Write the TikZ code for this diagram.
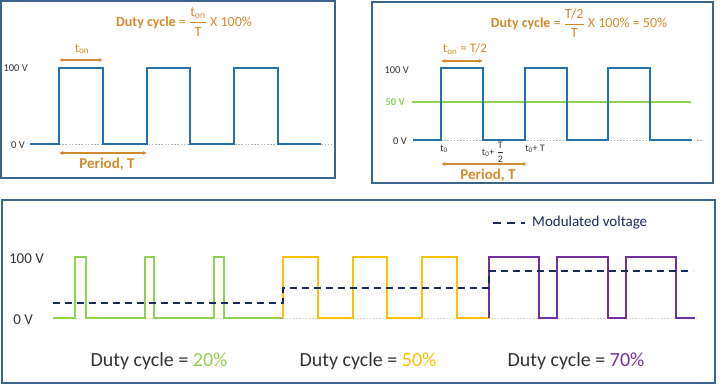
\documentclass[tikz,border=0pt]{standalone}
\usepackage{amsmath}
\usepackage{fontspec}
\setmainfont{Carlito}
\usepackage{xcolor}
\definecolor{frame}{HTML}{3B6488}
\definecolor{wave}{HTML}{2471AE}
\definecolor{accent}{HTML}{D38A2D}
\definecolor{ink}{HTML}{333333}
\definecolor{grn}{HTML}{92D050}
\definecolor{ylw}{HTML}{FFC000}
\definecolor{prp}{HTML}{7030A0}
\definecolor{navy}{HTML}{1B2A5C}
\usetikzlibrary{positioning,arrows.meta}

\begin{document}
\begin{tikzpicture}[x=1pt,y=-1pt,
  font=\fontsize{10.5}{12}\selectfont,
  panel/.style={draw=frame,line width=1.4pt},
  pulse/.style={draw=wave,line width=2pt},
  train/.style={line width=2.4pt},
  zero/.style={draw=gray!60,line width=0.8pt,dash pattern=on 1.6pt off 1.6pt},
  span/.style={{Latex[length=4pt,width=4pt]}-{Latex[length=4pt,width=4pt]},draw=accent,line width=1.4pt},
  level/.style={anchor=east,text=ink,inner sep=0pt},
  note/.style={text=accent,font=\bfseries\fontsize{15}{17}\selectfont},
  tick/.style={text=ink,font=\fontsize{10}{11}\selectfont},
  modline/.style={draw=navy,line width=2pt,dash pattern=on 7pt off 5pt},
  caption/.style={text=ink,font=\fontsize{20}{24}\selectfont}
]
\useasboundingbox (0,0) rectangle (720,385);

\draw[panel] (1,1) rectangle (335,178);
\draw[panel] (372,2) rectangle (713,183);
\draw[panel] (2,200) rectangle (715,383);

% one period, one formula
\node[text=accent,font=\fontsize{14}{16}\selectfont] (title1) at (184,22)
  {\textbf{Duty cycle} = $\dfrac{\text{t\textsubscript{on}}}{\text{T}}$ X 100\%};
\node[level] (hi1) at (28,68) {100 V};
\node[level] (lo1) at (25,145) {0 V};
\draw[zero] (59,144) -- (332,144);
\draw[pulse] (30,144) -- (59,144) -- (59,68) -- (103,68) -- (103,144) -- (147,144) -- (147,68)
  -- (190,68) -- (190,144) -- (234,144) -- (234,68) -- (278,68) -- (278,144) -- (321,144);
\coordinate (on1a) at (59,60);
\coordinate (on1b) at (103,60);
\coordinate (per1a) at (59,153);
\coordinate (per1b) at (147,153);
\draw[span] (on1a) -- (on1b);
\draw[span] (per1a) -- (per1b);
\node[text=accent,font=\fontsize{13}{15}\selectfont] (ton1) at (82,49) {t\textsubscript{on}};
\node[note] (period1) at (107,164) {Period, T};

% half period, 50 V average
\node[text=accent,font=\fontsize{14}{16}\selectfont] (title2) at (579,23)
  {\textbf{Duty cycle} = $\dfrac{\text{T/2}}{\text{T}}$ X 100\% = 50\%};
\node[level] (hi2) at (409,70) {100 V};
\node[level,text=grn,font=\bfseries\fontsize{10.5}{12}\selectfont] (mid2) at (405,102) {50 V};
\node[level] (lo2) at (407,141) {0 V};
\draw[zero] (441,140) -- (703,140);
\draw[draw=grn,line width=1.6pt] (412,102) -- (691,102);
\draw[pulse] (413,140) -- (441,140) -- (441,68) -- (483,68) -- (483,140) -- (525,140) -- (525,68)
  -- (567,68) -- (567,140) -- (608,140) -- (608,68) -- (650,68) -- (650,140) -- (692,140);
\coordinate (on2a) at (441,61);
\coordinate (on2b) at (483,61);
\coordinate (per2a) at (441,164);
\coordinate (per2b) at (527,164);
\draw[span] (on2a) -- (on2b);
\draw[span] (per2a) -- (per2b);
\node[text=accent,font=\fontsize{13}{15}\selectfont] (ton2) at (465,49) {t\textsubscript{on} = T/2};
\node[note] (period2) at (488,175) {Period, T};
\node[tick] (t0) at (444,149) {t\textsubscript{0}};
\node[tick] (thalf) at (493,152) {t\textsubscript{0}+ $\dfrac{\text{T}}{\text{2}}$};
\node[tick] (tfull) at (535,149) {t\textsubscript{0}+ T};

% three duty cycles
\node[level,font=\fontsize{15}{18}\selectfont] (hi3) at (44,259) {100 V};
\node[level,font=\fontsize{15}{18}\selectfont] (lo3) at (33,320) {0 V};
\draw[zero,draw=gray!35] (53,318) -- (697,318);
\draw[train,draw=grn] (53,318) -- (75,318) -- (75,257) -- (86,257) -- (86,318) -- (145,318) -- (145,257)
  -- (154,257) -- (154,318) -- (214,318) -- (214,257) -- (224,257) -- (224,318) -- (283,318);
\draw[train,draw=ylw] (283,318) -- (283,257) -- (318,257) -- (318,318) -- (353,318) -- (353,257)
  -- (387,257) -- (387,318) -- (422,318) -- (422,257) -- (457,257) -- (457,318) -- (489,318);
\draw[train,draw=prp] (489,318) -- (489,257) -- (539,257) -- (539,318) -- (557,318) -- (557,257)
  -- (608,257) -- (608,318) -- (626,318) -- (626,257) -- (676,257) -- (676,318) -- (695,318);
\draw[modline] (53,303) -- (283,303) -- (283,288) -- (489,288) -- (489,271) -- (693,271);
\coordinate (keyA) at (493,223);
\coordinate (keyB) at (525,223);
\draw[modline,dash pattern=on 8pt off 6pt] (keyA) -- (keyB);
\node[anchor=west,inner sep=0pt,text=navy,font=\fontsize{15}{18}\selectfont] (legend) at (532,223) {Modulated voltage};
\node[caption] (dc20) at (159,361) {Duty cycle = \textcolor{grn}{20\%}};
\node[caption] (dc50) at (368,361) {Duty cycle = \textcolor{ylw}{50\%}};
\node[caption] (dc70) at (576,361) {Duty cycle = \textcolor{prp}{70\%}};
\end{tikzpicture}
\end{document}
